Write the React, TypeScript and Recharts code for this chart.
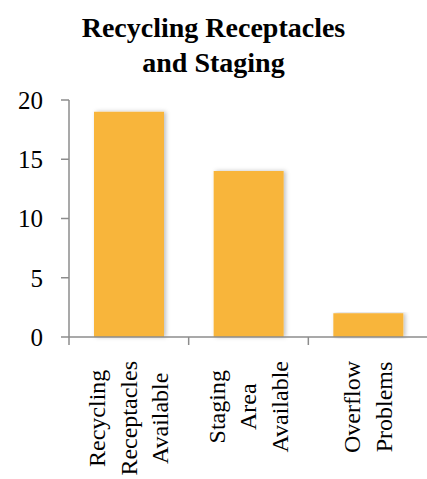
import { BarChart, Bar, XAxis, YAxis } from "recharts"

const categories = [
  "Recycling Receptacles Available",
  "Staging Area Available",
  "Overflow Problems",
]
const categoryLines = [
  ["Recycling", "Receptacles", "Available"],
  ["Staging", "Area", "Available"],
  ["Overflow", "Problems"],
]
const counts = [19, 14, 2]
const yTicks = [0, 5, 10, 15, 20]
const titleLines = ["Recycling Receptacles", "and Staging"]

const data = categories.map((name, i) => ({ name, count: counts[i] }))

const FONT = "Liberation Serif, serif"
const AXIS = "#8c8c8c"
const BAR = "#f8b53a"

const WIDTH = 430
const HEIGHT = 479
const TOP = 100
const YAXIS_W = 69
const RIGHT = 2
const PLOT_BOTTOM = 337
const BAND = (WIDTH - YAXIS_W - RIGHT) / categories.length

let ctx: CanvasRenderingContext2D | null = null
function textWidth(s: string, size: number) {
  if (!ctx) ctx = document.createElement("canvas").getContext("2d")
  if (!ctx) return s.length * size * 0.45
  ctx.font = `${size}px ${FONT}`
  return ctx.measureText(s).width
}

function CategoryTick(props: any) {
  const { x, y, index } = props
  const lines = categoryLines[index] ?? []
  const size = 24
  const gap = 31.5
  const longest = Math.max(...lines.map((l) => textWidth(l, size)))
  const top = y + 24
  const cy = top + longest / 2
  const left = x - BAND / 2
  return (
    <g>
      <line x1={left} y1={y} x2={left} y2={y + 8} stroke={AXIS} strokeWidth={1.5} />
      {lines.map((line, i) => {
        const cx = x + (i - (lines.length - 1) / 2) * gap
        return (
          <text
            key={line}
            x={cx}
            y={cy}
            transform={`rotate(-90 ${cx} ${cy})`}
            textAnchor="middle"
            dominantBaseline="central"
            style={{ fontFamily: FONT, fontSize: size, fill: "#000" }}
          >
            {line}
          </text>
        )
      })}
    </g>
  )
}

export default function App() {
  return (
    <div
      style={{
        position: "absolute",
        left: 0,
        top: 0,
        width: 427,
        height: 479,
        overflow: "hidden",
        background: "#fff",
      }}
    >
      <svg width={427} height={90} style={{ position: "absolute", left: 0, top: 0 }}>
        <defs>
          <filter id="barShadow" x="-20%" y="-5%" width="140%" height="110%">
            <feDropShadow dx={2} dy={0} stdDeviation={2} floodColor="#000" floodOpacity={0.25} />
          </filter>
        </defs>
        {titleLines.map((line, i) => (
          <text
            key={line}
            x={213.5}
            y={37 + i * 35}
            textAnchor="middle"
            style={{ fontFamily: FONT, fontWeight: "bold", fontSize: 28, fill: "#000" }}
          >
            {line}
          </text>
        ))}
      </svg>
      <div style={{ position: "absolute", left: 0, top: 0 }}>
        <BarChart
          width={WIDTH}
          height={HEIGHT}
          data={data}
          margin={{ top: TOP, right: RIGHT, left: 0, bottom: 0 }}
          barSize={70}
        >
          <XAxis
            dataKey="name"
            interval={0}
            height={HEIGHT - PLOT_BOTTOM}
            tickLine={false}
            tickSize={0}
            tickMargin={0}
            axisLine={{ stroke: AXIS, strokeWidth: 1.5 }}
            tick={<CategoryTick />}
          />
          <YAxis
            width={YAXIS_W}
            domain={[0, 20]}
            ticks={yTicks}
            interval={0}
            tickSize={8}
            tickMargin={18}
            axisLine={{ stroke: AXIS, strokeWidth: 1.5 }}
            tickLine={{ stroke: AXIS, strokeWidth: 1.5 }}
            tick={{ fontFamily: FONT, fontSize: 25, fill: "#000" }}
          />
          <Bar
            dataKey="count"
            fill={BAR}
            filter="url(#barShadow)"
            isAnimationActive={false}
          />
        </BarChart>
      </div>
    </div>
  )
}
